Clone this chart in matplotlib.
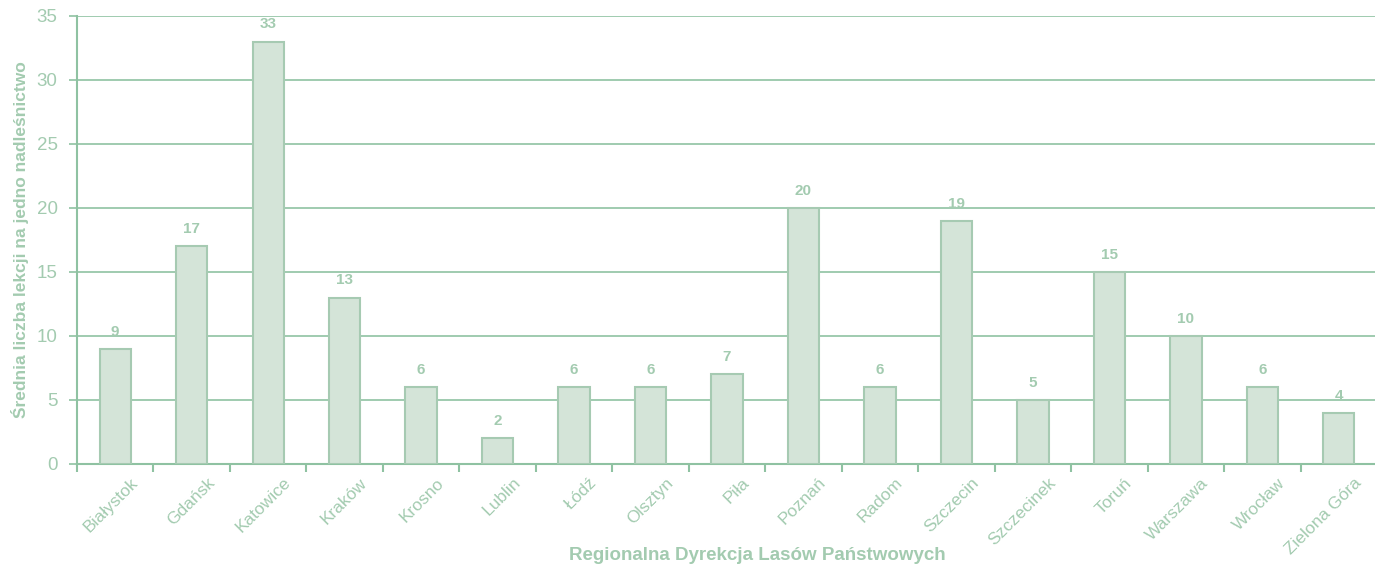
import matplotlib
matplotlib.use("Agg")
import matplotlib.pyplot as plt
import matplotlib.transforms as mtransforms
import numpy as np

categories = ["Białystok", "Gdańsk", "Katowice", "Kraków", "Krosno", "Lublin", "Łódź",
              "Olsztyn", "Piła", "Poznań", "Radom", "Szczecin", "Szczecinek", "Toruń",
              "Warszawa", "Wrocław", "Zielona Góra"]
values = [9, 17, 33, 13, 6, 2, 6, 6, 7, 20, 6, 19, 5, 15, 10, 6, 4]
yticks = [0, 5, 10, 15, 20, 25, 30, 35]

plt.rcParams['font.family'] = ['Liberation Sans', 'DejaVu Sans']
text_c = '#a3cbb0'
grid_c = '#8fc2a2'
bar_fill = '#d4e4d8'
bar_edge = '#a6cab2'

fig = plt.figure(figsize=(13.75, 5.67), dpi=100)
ax = fig.add_axes([77/1375, 1 - 464/567, (1377-77)/1375, (464-16)/567])

x = np.arange(len(categories))
ax.bar(x, values, width=0.41, color=bar_fill, edgecolor=bar_edge, linewidth=1.5, zorder=3)
for xi, v in zip(x, values):
    ax.text(xi, v + 0.8, str(v), ha='center', va='bottom', fontsize=11,
            fontweight='bold', color=text_c, zorder=4)

ax.set_xlim(-0.5, len(categories) - 0.5)
ax.set_ylim(0, 35)
ax.set_yticks(yticks)
ax.yaxis.grid(True, color=grid_c, linewidth=1.2, zorder=0)
ax.set_axisbelow(True)
for s in ['top', 'right']:
    ax.spines[s].set_visible(False)
for s in ['left', 'bottom']:
    ax.spines[s].set_color(grid_c)
    ax.spines[s].set_linewidth(1.5)

ax.tick_params(axis='y', colors=text_c, labelsize=13.5, length=6, width=1.2, color=grid_c, pad=8)
ax.set_xticks(np.arange(len(categories) + 1) - 0.5, minor=True)
ax.tick_params(axis='x', which='minor', length=6, width=1.5, color=grid_c, direction='out')
ax.set_xticks(x)
ax.tick_params(axis='x', which='major', length=0, colors=text_c, labelsize=12.5, pad=8)
ax.set_xticklabels(categories, rotation=45, ha='right', rotation_mode='anchor')
offset = mtransforms.ScaledTranslation(15/100, 0, fig.dpi_scale_trans)
for lab in ax.get_xticklabels():
    lab.set_transform(lab.get_transform() + offset)

ax.set_ylabel('Średnia liczba lekcji na jedno nadleśnictwo', fontsize=12.5, fontweight='bold',
              color=text_c)
ax.yaxis.set_label_coords(-0.037, 0.5)
ax.set_xlabel('Regionalna Dyrekcja Lasów Państwowych', fontsize=13.5, fontweight='bold',
              color=text_c)
ax.xaxis.set_label_coords(0.523, -0.205)
ax.xaxis.label.set_va('center')

fig.savefig('out.png', dpi=100)
